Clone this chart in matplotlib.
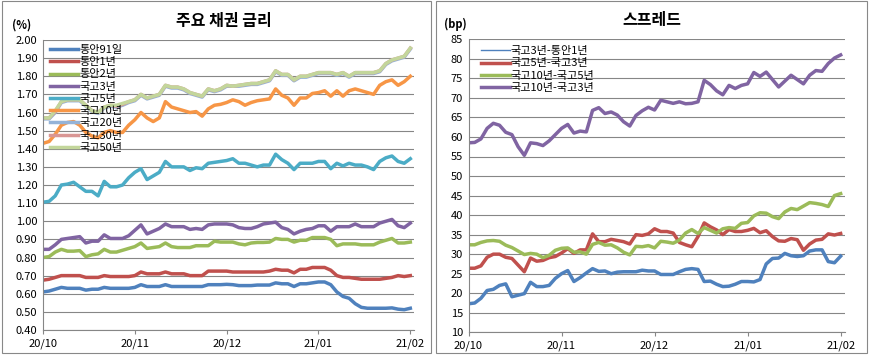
import matplotlib
matplotlib.use('Agg')
import numpy as np
import matplotlib.pyplot as plt
from matplotlib.lines import Line2D
from matplotlib.patches import Rectangle

plt.rcParams['font.family'] = ['Noto Sans CJK KR', 'DejaVu Sans']

# --- data ---
month_labels = ['20/10', '20/11', '20/12', '21/01', '21/02']
month_pos = [0, 15, 30, 45, 60]

msb91d = [0.61, 0.615, 0.625, 0.635, 0.63, 0.63, 0.63, 0.62, 0.625, 0.625,
          0.635, 0.63, 0.63, 0.63, 0.63, 0.635, 0.65, 0.64, 0.64, 0.64,
          0.65, 0.64, 0.64, 0.64, 0.64, 0.64, 0.64, 0.65, 0.65, 0.65,
          0.652, 0.65, 0.645, 0.645, 0.645, 0.648, 0.648, 0.648, 0.66, 0.655,
          0.655, 0.64, 0.655, 0.655, 0.66, 0.665, 0.665, 0.65, 0.61, 0.585,
          0.575, 0.545, 0.525, 0.52, 0.52, 0.52, 0.52, 0.522, 0.515, 0.512,
          0.52]
msb1y = [0.675, 0.68, 0.69, 0.70, 0.70, 0.70, 0.70, 0.69, 0.69, 0.69,
         0.70, 0.695, 0.695, 0.695, 0.695, 0.70, 0.72, 0.71, 0.71, 0.71,
         0.72, 0.71, 0.71, 0.71, 0.70, 0.70, 0.70, 0.725, 0.725, 0.725,
         0.725, 0.72, 0.72, 0.72, 0.72, 0.72, 0.72, 0.725, 0.735, 0.73,
         0.73, 0.715, 0.735, 0.735, 0.745, 0.745, 0.745, 0.73, 0.70, 0.69,
         0.69, 0.685, 0.68, 0.68, 0.68, 0.68, 0.685, 0.69, 0.70, 0.695,
         0.70]
msb2y = [0.80, 0.805, 0.83, 0.845, 0.835, 0.835, 0.838, 0.805, 0.815, 0.82,
         0.845, 0.83, 0.83, 0.84, 0.85, 0.86, 0.88, 0.85, 0.855, 0.86,
         0.88, 0.86, 0.855, 0.855, 0.855, 0.865, 0.865, 0.865, 0.89, 0.885,
         0.885, 0.885, 0.875, 0.87, 0.88, 0.883, 0.883, 0.885, 0.905, 0.90,
         0.90, 0.885, 0.895, 0.895, 0.91, 0.91, 0.91, 0.90, 0.865, 0.875,
         0.875, 0.875, 0.87, 0.87, 0.87, 0.885, 0.895, 0.905, 0.88, 0.88,
         0.885]
ktb3y = [0.845, 0.845, 0.87, 0.90, 0.905, 0.91, 0.915, 0.88, 0.89, 0.89,
         0.925, 0.905, 0.905, 0.905, 0.92, 0.95, 0.98, 0.93, 0.945, 0.96,
         0.985, 0.97, 0.97, 0.97, 0.955, 0.96, 0.955, 0.98, 0.985, 0.985,
         0.985, 0.98, 0.965, 0.96, 0.96, 0.97, 0.985, 0.99, 0.995, 0.965,
         0.955, 0.93, 0.945, 0.955, 0.96, 0.975, 0.975, 0.945, 0.97, 0.97,
         0.97, 0.985, 0.97, 0.97, 0.97, 0.99, 1.00, 1.01, 0.975, 0.965,
         0.99]
ktb5y = [1.105, 1.11, 1.14, 1.20, 1.205, 1.215, 1.19, 1.165, 1.165, 1.14,
         1.22, 1.19, 1.19, 1.20, 1.24, 1.27, 1.29, 1.23, 1.25, 1.27,
         1.33, 1.30, 1.30, 1.30, 1.28, 1.295, 1.29, 1.32, 1.325, 1.33,
         1.335, 1.345, 1.32, 1.32, 1.31, 1.30, 1.31, 1.31, 1.37, 1.34,
         1.32, 1.285, 1.32, 1.32, 1.32, 1.33, 1.33, 1.29, 1.32, 1.305,
         1.32, 1.31, 1.31, 1.30, 1.285, 1.33, 1.35, 1.36, 1.33, 1.32,
         1.345]
ktb10y = [1.43, 1.44, 1.48, 1.53, 1.545, 1.55, 1.53, 1.49, 1.47, 1.46,
          1.49, 1.50, 1.49, 1.49, 1.53, 1.56, 1.60, 1.57, 1.55, 1.57,
          1.66, 1.63, 1.62, 1.61, 1.60, 1.605, 1.58, 1.62, 1.64, 1.645,
          1.655, 1.67, 1.66, 1.64, 1.655, 1.665, 1.67, 1.675, 1.73, 1.695,
          1.68, 1.64, 1.68, 1.68, 1.705, 1.71, 1.72, 1.69, 1.72, 1.69,
          1.72, 1.73, 1.72, 1.71, 1.70, 1.75, 1.77, 1.78, 1.75, 1.77,
          1.80]
ktb20y = [1.565, 1.565, 1.60, 1.655, 1.665, 1.665, 1.665, 1.635, 1.605, 1.595,
          1.625, 1.635, 1.63, 1.64, 1.655, 1.665, 1.695, 1.675, 1.685, 1.695,
          1.745, 1.735, 1.735, 1.725, 1.705, 1.695, 1.685, 1.725, 1.715, 1.725,
          1.745, 1.745, 1.745, 1.75, 1.755, 1.755, 1.765, 1.775, 1.825, 1.805,
          1.805, 1.775, 1.795, 1.795, 1.805, 1.815, 1.815, 1.815, 1.805, 1.815,
          1.795, 1.815, 1.815, 1.815, 1.815, 1.825, 1.865, 1.885, 1.895, 1.905,
          1.95]
ktb30y = [1.57, 1.57, 1.605, 1.66, 1.67, 1.67, 1.67, 1.64, 1.61, 1.60,
          1.63, 1.64, 1.635, 1.645, 1.66, 1.67, 1.70, 1.68, 1.69, 1.70,
          1.75, 1.74, 1.74, 1.73, 1.71, 1.70, 1.69, 1.73, 1.72, 1.73,
          1.75, 1.745, 1.75, 1.755, 1.76, 1.76, 1.77, 1.78, 1.83, 1.81,
          1.81, 1.78, 1.80, 1.80, 1.81, 1.82, 1.82, 1.82, 1.81, 1.82,
          1.80, 1.82, 1.82, 1.82, 1.82, 1.83, 1.87, 1.89, 1.90, 1.91,
          1.955]
ktb50y = [1.57, 1.57, 1.61, 1.66, 1.67, 1.67, 1.67, 1.64, 1.61, 1.60,
          1.63, 1.64, 1.64, 1.65, 1.66, 1.67, 1.70, 1.68, 1.69, 1.70,
          1.75, 1.74, 1.74, 1.73, 1.71, 1.70, 1.69, 1.73, 1.72, 1.73,
          1.75, 1.745, 1.75, 1.755, 1.76, 1.76, 1.77, 1.78, 1.83, 1.81,
          1.81, 1.78, 1.80, 1.80, 1.81, 1.82, 1.82, 1.82, 1.81, 1.82,
          1.80, 1.82, 1.82, 1.82, 1.82, 1.83, 1.87, 1.89, 1.90, 1.91,
          1.955]

sp_3y_1y = [17.3, 17.5, 18.7, 20.7, 21.0, 22.0, 22.4, 19.1, 19.5, 19.9,
            22.8, 21.7, 21.7, 22.0, 23.8, 25.0, 25.8, 23.0, 24.0, 25.2,
            26.3, 25.6, 25.7, 25.0, 25.4, 25.5, 25.5, 25.5, 25.9, 25.7,
            25.7, 24.8, 24.8, 24.8, 25.5, 26.1, 26.3, 26.1, 23.0, 23.1,
            22.3, 21.7, 21.8, 22.3, 23.0, 23.0, 22.9, 23.5, 27.5, 28.9,
            29.0, 30.2, 29.6, 29.4, 29.6, 30.8, 31.1, 31.1, 28.1, 27.8,
            29.5]
sp_5y_3y = [26.4, 26.4, 27.0, 29.2, 30.0, 30.0, 29.2, 28.9, 27.2, 25.5,
            29.0, 28.2, 28.4, 29.1, 29.4, 30.3, 31.4, 30.2, 31.1, 31.1,
            35.2, 33.2, 33.2, 33.8, 33.5, 33.2, 32.6, 35.0, 34.8, 35.2,
            36.5, 35.8, 35.8, 35.4, 33.0, 32.4, 31.9, 34.5, 38.0, 37.0,
            36.2, 35.0, 36.3, 35.8, 35.8, 36.1, 36.6, 35.5, 36.0, 34.5,
            33.4, 33.3, 34.0, 33.7, 31.0, 32.6, 33.6, 33.8, 35.2, 34.9,
            35.3]
sp_10y_5y = [32.4, 32.4, 33.0, 33.4, 33.5, 33.3, 32.3, 31.7, 30.8, 29.9,
             30.2, 30.0, 29.1, 29.7, 31.0, 31.5, 31.6, 30.5, 30.6, 30.0,
             32.5, 33.0, 32.3, 32.4, 31.6, 30.5, 29.8, 32.0, 31.9, 32.2,
             31.6, 33.3, 33.1, 32.8, 33.6, 35.4, 36.3, 35.3, 36.8, 36.1,
             35.4, 36.5, 36.8, 36.6, 37.9, 38.1, 39.8, 40.6, 40.5, 39.6,
             39.1, 40.8, 41.7, 41.4, 42.3, 43.2, 43.0, 42.7, 42.2, 45.0,
             45.5]
sp_10y_3y = [58.5, 58.6, 59.5, 62.2, 63.5, 63.0, 61.2, 60.6, 57.5, 55.3,
             58.5, 58.3, 57.8, 59.0, 60.6, 62.2, 63.2, 61.0, 61.5, 61.3,
             66.8, 67.5, 66.0, 66.4, 65.6, 63.9, 62.8, 65.5, 66.7, 67.6,
             66.9, 69.4, 69.0, 68.6, 69.0, 68.5, 68.6, 69.0, 74.5, 73.4,
             71.8, 70.8, 73.2, 72.4, 73.2, 73.6, 76.5, 75.5, 76.6, 74.7,
             72.8, 74.3, 75.8, 74.7, 73.6, 75.8, 77.0, 76.8, 78.8, 80.2,
             81.0]

yield_series = [
    ('통안91일', msb91d, '#4F81BD'),
    ('통안1년', msb1y, '#C0504D'),
    ('통안2년', msb2y, '#9BBB59'),
    ('국고3년', ktb3y, '#8064A2'),
    ('국고5년', ktb5y, '#4BACC6'),
    ('국고10년', ktb10y, '#F79646'),
    ('국고20년', ktb20y, '#95B3D7'),
    ('국고30년', ktb30y, '#D99694'),
    ('국고50년', ktb50y, '#C3D69B'),
]
spread_series = [
    ('국고3년-통안1년', sp_3y_1y, '#4F81BD'),
    ('국고5년-국고3년', sp_5y_3y, '#C0504D'),
    ('국고10년-국고5년', sp_10y_5y, '#9BBB59'),
    ('국고10년-국고3년', sp_10y_3y, '#8064A2'),
]

W, H = 869, 360
fig = plt.figure(figsize=(W / 100, H / 100), dpi=100)
fig.patch.set_facecolor('white')

GRID = '#868686'
FS = 8
LW = 2.5


def px(x0, y0, x1, y1):
    # pixel box -> figure fraction [l, b, w, h]
    return [x0 / W, 1 - y1 / H, (x1 - x0) / W, (y1 - y0) / H]


# panel frames
for x0, x1 in [(1.5, 430.5), (436, 867)]:
    fig.add_artist(Rectangle((x0 / W, 1 - 353 / H), (x1 - x0) / W, 352 / H,
                             transform=fig.transFigure, fill=False,
                             edgecolor='#888888', lw=0.8))


def style_axes(ax):
    for s in ['top', 'right']:
        ax.spines[s].set_visible(False)
    for s in ['left', 'bottom']:
        ax.spines[s].set_color(GRID)
        ax.spines[s].set_linewidth(0.8)
    ax.yaxis.grid(True, color=GRID, lw=0.8)
    ax.set_axisbelow(True)
    ax.set_xticks(month_pos)
    ax.set_xticklabels(month_labels)
    ax.tick_params(axis='x', length=3, color=GRID, labelsize=FS, pad=3)
    ax.tick_params(axis='y', length=0, labelsize=FS, pad=4)


x = np.arange(len(msb91d))

# left: 주요 채권 금리
ax1 = fig.add_axes(px(43, 40, 414, 330))
for name, vals, col in yield_series:
    ax1.plot(x, vals, color=col, lw=LW, label=name, solid_joinstyle='round')
ax1.set_xlim(0, 60.6)
ax1.set_ylim(0.4, 2.0)
ax1.set_yticks(np.arange(0.4, 2.001, 0.1))
ax1.yaxis.set_major_formatter(matplotlib.ticker.FormatStrFormatter('%.2f'))
style_axes(ax1)
ax1.legend(loc='upper left', bbox_to_anchor=(50 / W, 1 - 45 / H),
           bbox_transform=fig.transFigure, frameon=False, fontsize=FS,
           handlelength=2.5, handletextpad=0.12, labelspacing=0.2,
           borderpad=0, borderaxespad=0)
fig.text(224 / W, 1 - 21 / H, '주요 채권 금리', ha='center', va='center',
         fontsize=11.5, fontweight='bold')
fig.text(12 / W, 1 - 25 / H, '(%)', ha='left', va='center', fontsize=FS,
         fontweight='bold')

# right: 스프레드
ax2 = fig.add_axes(px(468.5, 39.3, 845, 332.3))
for name, vals, col in spread_series:
    ax2.plot(x, vals, color=col, lw=LW, solid_joinstyle='round')
ax2.set_xlim(0, 60.7)
ax2.set_ylim(10, 85)
ax2.set_yticks(np.arange(10, 86, 5))
style_axes(ax2)
handles = [Line2D([], [], color=col, lw=(1.0 if i == 0 else LW))
           for i, (name, vals, col) in enumerate(spread_series)]
ax2.legend(handles, [s[0] for s in spread_series], loc='upper left',
           bbox_to_anchor=(481 / W, 1 - 46 / H), bbox_transform=fig.transFigure,
           frameon=False, fontsize=FS, handlelength=2.6, handletextpad=0.05,
           labelspacing=0.22, borderpad=0, borderaxespad=0)
fig.text(652 / W, 1 - 20 / H, '스프레드', ha='center', va='center',
         fontsize=11.5, fontweight='bold')
fig.text(444 / W, 1 - 24 / H, '(bp)', ha='left', va='center', fontsize=FS,
         fontweight='bold')

fig.savefig('out.png', dpi=100, facecolor='white')
